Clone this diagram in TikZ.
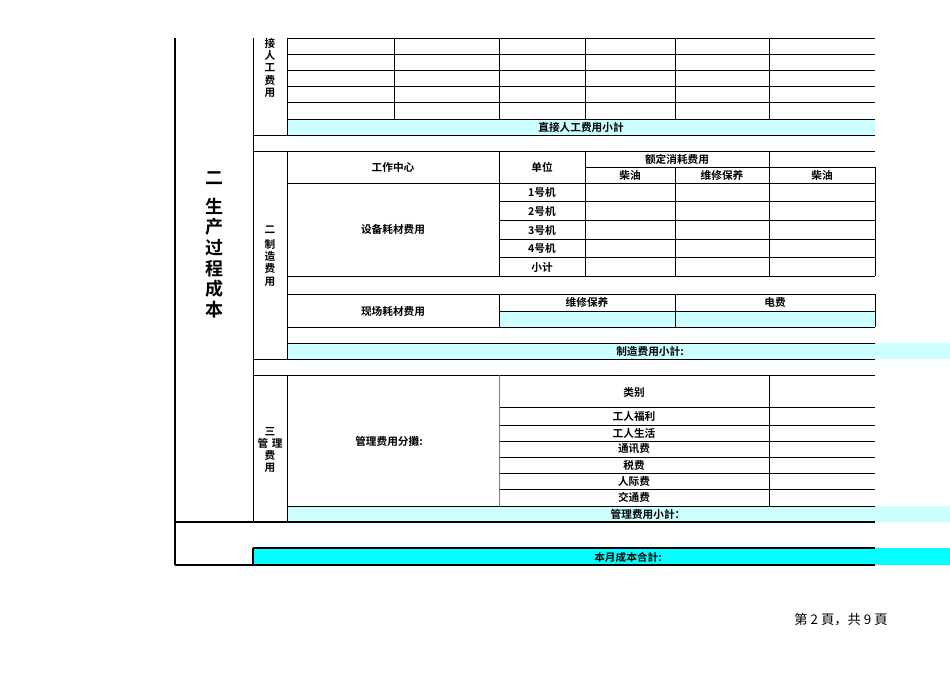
\documentclass[tikz,border=0pt]{standalone}
\usepackage{fontspec}
\newfontfamily\cjk{Noto Sans CJK SC}[BoldFont={Noto Sans CJK SC Bold}]
\definecolor{lcy}{RGB}{204,255,255}
\definecolor{bcy}{RGB}{0,255,255}
\begin{document}
\begin{tikzpicture}[x=0.75pt,y=-0.75pt,
  ln/.style={line width=0.6pt,black},
  thk/.style={line width=1.4pt,black},
  cy/.style={fill=lcy},
  cyb/.style={fill=bcy},
  tx/.style={font=\cjk\bfseries\fontsize{8}{9}\selectfont,inner sep=0pt},
  vt/.style={font=\cjk\bfseries\fontsize{8}{9.2}\selectfont,align=center,inner sep=0pt},
  bigvt/.style={font=\cjk\bfseries\fontsize{13.5}{15.5}\selectfont,align=center,inner sep=0pt}]
\useasboundingbox (0,0) rectangle (950,672);
% cyan fills
\fill[cy] (287,119) rectangle (875,135);
\fill[cy] (499,311) rectangle (875,327);
\fill[cy] (287,343) rectangle (950,359);
\fill[cy] (287,506) rectangle (950,522);
\fill[cyb] (253,548) rectangle (950,565);
% section 1
\foreach \y in {38,54,70,86,102,119,135} \draw[ln] (287,\y) -- (875,\y);
\foreach \x in {394,499,585,675,769} \draw[ln] (\x,38) -- (\x,119);
\draw[ln] (253,135) -- (875,135) (253,151) -- (875,151);
% section 2
\draw[ln] (585,167) -- (875,167);
\foreach \y in {183,201,220,239,257} \draw[ln] (499,\y) -- (875,\y);
\draw[ln] (287,183) -- (499,183);
\draw[ln] (287,276) -- (875,276) (287,294) -- (875,294) (499,311) -- (875,311) (287,327) -- (875,327) (287,343) -- (875,343) (287,359) -- (875,359);
\draw[ln] (499,151) -- (499,276) (585,151) -- (585,276) (675,167) -- (675,276) (769,151) -- (769,276) (875,167) -- (875,276);
\draw[ln] (499,294) -- (499,327) (675,294) -- (675,327) (875,294) -- (875,327);
\draw[ln] (253,359) -- (875,359) (253,375) -- (875,375);
% section 3
\foreach \y in {407,425,441,457,473,489,506} \draw[ln] (499,\y) -- (875,\y);
\draw[ln] (287,506) -- (875,506);
\draw[ln,gray] (499,375) -- (499,506);
\draw[ln] (769,375) -- (769,506);
% frame verticals
\draw[ln] (253,38) -- (253,522) (287,38) -- (287,135) (287,151) -- (287,359) (287,375) -- (287,522);
\draw[thk] (175,38) -- (175,565);
\draw[thk] (175,522) -- (875,522);
\draw[thk] (175,565) -- (875,565);
\draw[thk] (253,548) -- (875,548) (253,548) -- (253,565);
% texts
\node[bigvt] (t1) at (214,245) {二\\[6pt]生\\产\\过\\程\\成\\本};
\node[vt,anchor=north] (t2) at (270,38) {接\\人\\工\\费\\用};
\node[vt] (t3) at (270,256) {二\\[2pt]制\\造\\费\\用};
\node[vt] (t4) at (270,450) {三\\管\,\,理\\费\\用};
\node[tx] (a1) at (581,127) {直接人工费用小計};
\node[tx] (a2) at (393,167) {工作中心};
\node[tx] (a3) at (542,167) {单位};
\node[tx] (a4) at (677,159) {额定消耗费用};
\node[tx] (a5) at (630,175) {柴油};
\node[tx] (a6) at (722,175) {维修保养};
\node[tx] (a7) at (822,175) {柴油};
\node[tx] (a8) at (542,192) {1号机};
\node[tx] (a9) at (542,211) {2号机};
\node[tx] (a10) at (542,230) {3号机};
\node[tx] (a11) at (542,248) {4号机};
\node[tx] (a12) at (542,267) {小计};
\node[tx] (a13) at (393,229) {设备耗材费用};
\node[tx] (a14) at (393,311) {现场耗材费用};
\node[tx] (a15) at (587,302) {维修保养};
\node[tx] (a16) at (775,302) {电费};
\node[tx] (a17) at (650,351) {制造费用小計:};
\node[tx] (a18) at (389,441) {管理费用分攤:};
\node[tx] (a19) at (634,392) {类别};
\node[tx] (b1) at (634,416) {工人福利};
\node[tx] (b2) at (634,433) {工人生活};
\node[tx] (b3) at (634,449) {通讯费};
\node[tx] (b4) at (634,465) {税费};
\node[tx] (b5) at (634,481) {人际费};
\node[tx] (b6) at (634,497) {交通费};
\node[tx] (a20) at (648,514) {管理费用小計：};
\node[tx] (a21) at (628,557) {本月成本合計:};
\node[font=\cjk\fontsize{10}{12}\selectfont,inner sep=0pt] (pg) at (841,620) {第 2 頁，共 9 頁};
\end{tikzpicture}
\end{document}
